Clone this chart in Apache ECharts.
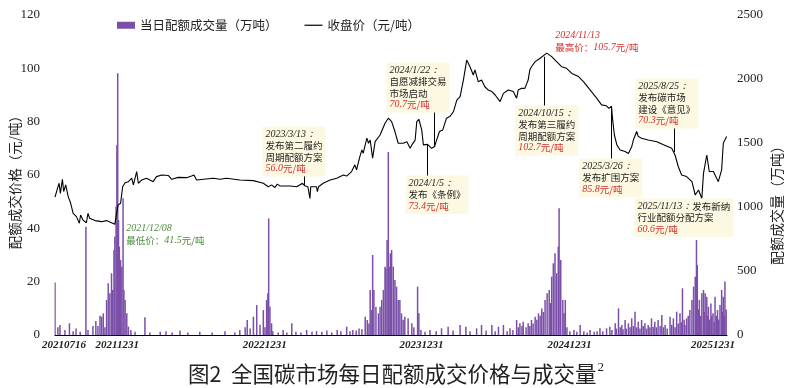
<!DOCTYPE html>
<html><head><meta charset="utf-8">
<script src="https://cdn.jsdelivr.net/npm/echarts@6/dist/echarts.min.js"></script>
<style>html,body{margin:0;padding:0;background:#fff}#c{width:792px;height:388px}</style>
</head><body><div id="c"></div>
<script>
// ---------- data ----------
const AXIS_START = '2021-07-16';
const AXIS_END = '2025-12-31';

// closing price, yuan/ton
const priceData = [
['2021-07-16',51.7],['2021-07-21',54.4],['2021-07-26',56.9],['2021-07-29',53.1],['2021-08-03',58.4],['2021-08-06',53.8],['2021-08-11',56.3],['2021-08-17',51.9],['2021-08-23',49.4],['2021-08-29',45.6],
['2021-09-06',44.4],['2021-09-13',41.9],['2021-09-16',45.0],['2021-09-22',43.1],['2021-09-30',42.1],['2021-10-04',45.6],['2021-10-08',43.8],['2021-10-21',42.9],['2021-11-06',42.5],['2021-11-18',42.9],
['2021-11-30',42.1],['2021-12-08',41.5],['2021-12-11',44.4],['2021-12-16',48.8],['2021-12-22',49.4],['2021-12-27',55.6],['2022-01-02',57.1],['2022-01-10',57.5],['2022-01-18',58.8],['2022-01-22',56.3],
['2022-01-30',61.3],['2022-02-03',56.9],['2022-02-11',58.1],['2022-02-23',58.8],['2022-03-11',57.5],['2022-03-19',59.4],['2022-04-01',60.0],['2022-04-17',59.8],['2022-04-25',58.4],['2022-05-11',59.1],
['2022-05-31',59.0],['2022-06-12',59.6],['2022-06-18',60.0],['2022-06-24',58.1],['2022-07-11',58.4],['2022-08-04',58.8],['2022-08-20',58.4],['2022-09-05',58.8],['2022-10-07',58.1],['2022-11-09',57.9],
['2022-12-03',56.9],['2022-12-15',55.6],['2022-12-23',56.3],['2022-12-31',55.3],['2023-01-06',56.6],['2023-01-12',55.9],['2023-02-06',55.9],['2023-02-22',55.6],['2023-03-08',56.9],['2023-03-13',56.0],
['2023-03-21',55.6],['2023-03-26',51.2],['2023-03-28',55.6],['2023-04-11',55.6],['2023-04-13',53.8],['2023-04-16',55.6],['2023-04-27',56.9],['2023-05-14',58.1],['2023-05-30',58.8],['2023-06-15',60.0],
['2023-06-23',59.6],['2023-07-05',61.3],['2023-07-13',63.8],['2023-07-17',61.9],['2023-07-25',66.9],['2023-07-30',69.4],['2023-08-02',68.1],['2023-08-11',73.8],['2023-08-15',71.9],['2023-08-19',73.1],
['2023-08-25',66.3],['2023-08-31',72.5],['2023-09-12',75.0],['2023-09-24',79.4],['2023-10-02',81.3],['2023-10-10',80.0],['2023-10-18',76.3],['2023-10-26',71.9],['2023-11-07',71.9],['2023-11-16',72.5],
['2023-11-24',70.0],['2023-11-28',71.3],['2023-12-06',73.1],['2023-12-10',80.0],['2023-12-15',80.9],['2023-12-22',76.9],['2023-12-26',71.3],['2024-01-05',71.5],['2024-01-15',70.0],['2024-01-22',70.7],
['2024-01-27',73.1],['2024-02-03',76.3],['2024-02-11',76.9],['2024-02-20',81.3],['2024-02-28',81.9],['2024-03-08',83.8],['2024-03-16',88.1],['2024-03-24',89.4],['2024-04-01',95.6],['2024-04-09',103.1],
['2024-04-17',100.6],['2024-04-25',97.5],['2024-04-29',99.4],['2024-05-07',95.0],['2024-05-15',95.6],['2024-05-23',93.1],['2024-05-31',91.9],['2024-06-09',91.3],['2024-06-17',90.0],['2024-06-29',87.5],
['2024-07-07',90.6],['2024-07-19',91.9],['2024-07-31',91.3],['2024-08-08',88.8],['2024-08-12',91.9],['2024-08-20',92.5],['2024-08-28',92.5],['2024-09-05',95.6],['2024-09-09',99.4],['2024-09-13',100.6],
['2024-09-22',102.5],['2024-10-04',103.8],['2024-10-20',105.7],['2024-11-01',104.4],['2024-11-13',102.5],['2024-11-25',100.6],['2024-12-07',100.0],['2024-12-20',98.1],['2025-01-05',96.9],['2025-01-17',95.0],
['2025-02-02',91.9],['2025-02-18',88.8],['2025-03-02',86.3],['2025-03-13',86.0],['2025-03-20',85.0],['2025-03-26',85.8],['2025-03-28',81.9],['2025-04-02',75.0],['2025-04-08',71.3],['2025-04-16',69.4],
['2025-04-28',68.8],['2025-05-06',68.1],['2025-05-14',70.6],['2025-05-18',73.1],['2025-05-26',76.3],['2025-05-30',74.4],['2025-06-07',73.8],['2025-06-23',73.1],['2025-07-14',72.5],['2025-07-30',71.3],
['2025-08-19',70.0],['2025-08-27',67.5],['2025-09-04',63.1],['2025-09-12',60.0],['2025-09-24',59.4],['2025-10-07',57.5],['2025-10-15',52.5],['2025-10-23',54.4],['2025-10-31',51.2],['2025-11-04',60.6],
['2025-11-12',67.5],['2025-11-18',61.3],['2025-11-28',61.3],['2025-12-10',57.5],['2025-12-18',61.9],['2025-12-22',71.9],['2025-12-30',74.4]
];

// daily traded volume, 10k tons
const volumeData = [
['2021-07-16',410],['2021-07-23',60],['2021-07-28',78],['2021-08-09',40],['2021-08-20',91],['2021-08-29',30],['2021-09-05',50],['2021-09-15',25],['2021-09-29',846],['2021-10-04',40],
['2021-10-16',70],['2021-10-23',110],['2021-10-28',70],['2021-11-02',150],['2021-11-06',143],['2021-11-10',169],['2021-11-14',60],['2021-11-18',273],['2021-11-22',404],['2021-11-26',326],
['2021-11-30',482],['2021-12-03',352],['2021-12-06',664],['2021-12-08',768],['2021-12-11',1003],['2021-12-13',1484],['2021-12-15',2044],['2021-12-17',898],['2021-12-19',690],['2021-12-22',586],
['2021-12-25',534],['2021-12-28',1068],['2021-12-30',352],['2022-01-02',273],['2022-01-06',169],['2022-01-10',65],['2022-01-16',40],['2022-01-26',25],['2022-02-19',138],['2022-03-03',20],
['2022-03-28',25],['2022-04-11',30],['2022-04-26',20],['2022-05-15',35],['2022-06-03',20],['2022-07-02',25],['2022-08-01',20],['2022-09-01',30],['2022-09-25',20],['2022-10-07',40],
['2022-10-20',60],['2022-10-25',117],['2022-11-01',50],['2022-11-09',143],['2022-11-17',234],['2022-11-25',80],['2022-12-03',195],['2022-12-07',60],['2022-12-11',273],['2022-12-14',326],
['2022-12-16',911],['2022-12-19',221],['2022-12-23',91],['2022-12-26',30],['2023-01-08',20],['2023-01-20',40],['2023-01-29',20],['2023-02-10',91],['2023-02-20',25],['2023-03-04',20],
['2023-03-18',39],['2023-03-31',25],['2023-04-11',30],['2023-04-24',25],['2023-05-06',35],['2023-05-18',20],['2023-05-31',40],['2023-06-09',30],['2023-06-23',65],['2023-07-01',30],
['2023-07-08',40],['2023-07-16',35],['2023-07-23',50],['2023-07-30',45],['2023-08-07',143],['2023-08-12',117],['2023-08-16',90],['2023-08-19',352],['2023-08-23',195],['2023-08-25',625],
['2023-08-28',352],['2023-09-02',221],['2023-09-08',169],['2023-09-12',221],['2023-09-16',273],['2023-09-20',352],['2023-09-24',534],['2023-09-26',521],['2023-09-29',742],['2023-10-02',1430],
['2023-10-04',534],['2023-10-07',638],['2023-10-10',664],['2023-10-14',534],['2023-10-18',430],['2023-10-22',378],['2023-10-26',273],['2023-10-30',273],['2023-11-03',169],['2023-11-07',120],
['2023-11-11',143],['2023-11-19',130],['2023-11-28',91],['2023-12-03',60],['2023-12-12',378],['2023-12-15',169],['2023-12-20',40],['2023-12-30',25],['2024-01-11',40],['2024-01-26',30],
['2024-02-08',52],['2024-02-24',65],['2024-03-07',35],['2024-03-24',78],['2024-04-07',65],['2024-04-17',30],['2024-05-03',52],['2024-05-15',78],['2024-05-26',35],['2024-06-09',78],
['2024-06-17',30],['2024-06-25',65],['2024-07-07',78],['2024-07-16',30],['2024-07-23',52],['2024-07-30',40],['2024-08-08',117],['2024-08-12',60],['2024-08-16',91],['2024-08-21',70],
['2024-08-24',104],['2024-08-31',60],['2024-09-05',91],['2024-09-09',70],['2024-09-13',117],['2024-09-17',90],['2024-09-22',143],['2024-09-26',120],['2024-09-30',169],['2024-10-04',150],
['2024-10-08',208],['2024-10-12',180],['2024-10-16',273],['2024-10-21',326],['2024-10-26',352],['2024-10-29',250],['2024-11-01',456],['2024-11-05',560],['2024-11-09',638],['2024-11-13',482],
['2024-11-17',690],['2024-11-19',990],['2024-11-23',586],['2024-11-28',273],['2024-12-01',169],['2024-12-04',273],['2024-12-08',60],['2024-12-15',30],['2024-12-25',40],['2025-01-01',25],
['2025-01-09',78],['2025-01-18',30],['2025-01-26',20],['2025-02-02',40],['2025-02-12',25],['2025-02-19',30],['2025-02-26',52],['2025-03-05',30],['2025-03-14',52],['2025-03-22',65],
['2025-03-27',40],['2025-04-04',91],['2025-04-07',50],['2025-04-12',208],['2025-04-16',60],['2025-04-20',78],['2025-04-23',45],['2025-04-28',117],['2025-05-01',50],['2025-05-06',91],
['2025-05-10',60],['2025-05-14',130],['2025-05-18',70],['2025-05-22',182],['2025-05-26',60],['2025-05-30',104],['2025-06-03',50],['2025-06-07',117],['2025-06-11',70],['2025-06-15',91],
['2025-06-19',50],['2025-06-23',78],['2025-06-27',60],['2025-07-01',130],['2025-07-05',65],['2025-07-09',104],['2025-07-13',60],['2025-07-17',117],['2025-07-22',70],['2025-07-26',156],
['2025-07-30',60],['2025-08-03',78],['2025-08-08',50],['2025-08-15',143],['2025-08-19',80],['2025-08-23',130],['2025-08-27',60],['2025-08-31',182],['2025-09-04',90],['2025-09-08',169],
['2025-09-11',100],['2025-09-14',365],['2025-09-18',120],['2025-09-20',78],['2025-09-24',130],['2025-09-28',150],['2025-10-02',195],['2025-10-07',273],['2025-10-11',378],['2025-10-15',456],
['2025-10-18',742],['2025-10-20',547],['2025-10-23',200],['2025-10-25',273],['2025-10-28',150],['2025-10-31',326],['2025-11-04',352],['2025-11-06',180],['2025-11-08',326],['2025-11-12',299],
['2025-11-14',150],['2025-11-16',221],['2025-11-19',120],['2025-11-22',247],['2025-11-24',150],['2025-11-27',169],['2025-11-30',100],['2025-12-02',299],['2025-12-05',150],['2025-12-08',195],
['2025-12-11',120],['2025-12-14',234],['2025-12-18',352],['2025-12-20',180],['2025-12-22',299],['2025-12-25',150],['2025-12-26',417],['2025-12-29',200]
];

const xTickDates  = ['2021-07-16','2021-12-31','2022-12-31','2023-12-31','2024-12-31','2025-12-31'];
const xTickLabels = ['20210716','20211231','20221231','20231231','20241231','20251231'];
const priceAxis  = { min: 0, max: 120,  interval: 20 };
const volumeAxis = { min: 0, max: 2500, interval: 500 };

// event notes: box anchor (top-left, in data units), texts, quoted price
const noteAnchors = [
  ['2022-12-02', 78],
  ['2023-09-29', 102],
  ['2023-11-14', 59.6],
  ['2024-08-06', 85.9],
  ['2025-01-08', 66],
  ['2025-05-24', 96],
  ['2025-05-22', 51]
];
const noteDates  = ['2023/3/13：','2024/1/22：','2024/1/5：','2024/10/15：','2025/3/26：','2025/8/25：','2025/11/13：'];
const noteHeads  = ['','','','','','','发布新纳'];
const noteLines  = [['发布第二履约','周期配额方案'],['自愿减排交易','市场启动'],['发布《条例》'],['发布第三履约','周期配额方案'],['发布扩围方案'],['发布碳市场','建设《意见》'],['行业配额分配方案']];
const notePrices = [56.0, 70.7, 73.4, 102.7, 85.8, 70.3, 60.6];

// leader lines: [date, from price, to price]
const leaders = [
  ['2023-03-13', 61.1, 56.3],
  ['2024-01-05', 71.3, 59.6],
  ['2024-01-22', 83.6, 71.0],
  ['2024-10-15', 104.3, 85.9],
  ['2025-03-26', 85.3, 66.0],
  ['2025-08-25', 78.7, 68.6]
];

// extreme price notes
const extremeNotes = [
  { anchor: ['2022-01-06', 42.3], date: '2021/12/08', label: '最低价：', value: 41.5, color: '#4d8a3f' },
  { anchor: ['2024-11-11', 114.6], date: '2024/11/13', label: '最高价：', value: 105.7, color: '#d2302c' }
];

// ---------- chart ----------
const ts = s => { const p = s.split('-').map(Number); return new Date(p[0], p[1] - 1, p[2]).getTime(); };
const SERIF = "'Liberation Serif', 'Times New Roman', serif";
const CJK = "'Noto Sans CJK SC', sans-serif";
const RED = '#d2302c';
const tickTs = xTickDates.map(ts);

const xShift = [9, -7, -10, -4, -7, -14];
const xRich = {};
xShift.forEach((s, i) => {
  xRich['s' + i] = {
    fontFamily: SERIF, fontStyle: 'italic', fontWeight: 'bold', fontSize: 11, color: '#222',
    padding: s > 0 ? [0, 0, 0, 2 * s] : [0, -2 * s, 0, 0]
  };
});

const noteRich = {
  d: { fontFamily: SERIF, fontStyle: 'italic', fontSize: 10, color: '#222', lineHeight: 11.5 },
  t: { fontFamily: CJK, fontSize: 9.5, color: '#222', lineHeight: 11.5 },
  p: { fontFamily: SERIF, fontStyle: 'italic', fontSize: 10, color: RED, lineHeight: 11.5 },
  pc: { fontFamily: CJK, fontSize: 9.5, color: RED, lineHeight: 11.5 }
};

const notePoints = noteAnchors.map((a, i) => {
  let s = '{d|' + noteDates[i] + '}' + (noteHeads[i] ? '{t|' + noteHeads[i] + '}' : '');
  noteLines[i].forEach(l => { s += '\n{t|' + l + '}'; });
  s += '\n{p|' + notePrices[i].toFixed(1) + '}{pc|元/吨}';
  return {
    coord: [ts(a[0]), a[1]],
    symbol: 'circle', symbolSize: 1, itemStyle: { color: 'rgba(0,0,0,0)' },
    label: {
      show: true, position: [0, 0], align: 'left', verticalAlign: 'top',
      backgroundColor: '#fcf8e2', padding: [2, 3, 2, 3],
      formatter: s, rich: noteRich
    }
  };
});
extremeNotes.forEach(n => {
  const c = n.color;
  notePoints.push({
    coord: [ts(n.anchor[0]), n.anchor[1]],
    symbol: 'circle', symbolSize: 1, itemStyle: { color: 'rgba(0,0,0,0)' },
    label: {
      show: true, position: [0, 0], align: 'left', verticalAlign: 'top',
      formatter: '{d|' + n.date + '}\n{t|' + n.label + '}{d|' + n.value.toFixed(1) + '}{t|元/吨}',
      rich: {
        d: { fontFamily: SERIF, fontStyle: 'italic', fontSize: 10, color: c, lineHeight: 12.5 },
        t: { fontFamily: CJK, fontSize: 9.5, color: c, lineHeight: 12.5 }
      }
    }
  });
});

const chart = echarts.init(document.getElementById('c'), null, { renderer: 'canvas' });
chart.setOption({
  animation: false,
  backgroundColor: '#fff',
  title: {
    text: '{a|图2  全国碳市场每日配额成交价格与成交量}{b|2}',
    left: 'center', top: 356,
    textStyle: {
      fontWeight: 'normal',
      rich: {
        a: { fontFamily: CJK, fontSize: 21.5, fontWeight: 'normal', color: '#222' },
        b: { fontFamily: SERIF, fontSize: 13, fontWeight: 'normal', color: '#222', padding: [0, 0, 12, 1] }
      }
    }
  },
  legend: {
    left: 112, top: 14, itemWidth: 18, itemHeight: 7, itemGap: 27,
    textStyle: { fontFamily: CJK, fontSize: 12.5, color: '#222' },
    data: [
      { name: '当日配额成交量（万吨）', icon: 'rect' },
      { name: '收盘价（元/吨）', icon: 'path://M0,0 L18,0 L18,1.2 L0,1.2 Z', itemStyle: { color: '#000' } }
    ]
  },
  grid: { left: 55, right: 65, top: 15, bottom: 53, containLabel: false, outerBoundsMode: 'none' },
  xAxis: {
    type: 'value', min: ts(AXIS_START), max: ts(AXIS_END), scale: true,
    axisLine: { show: true, onZero: false, lineStyle: { color: '#000', width: 1 } },
    axisTick: { show: false }, splitLine: { show: false },
    axisLabel: {
      customValues: tickTs, margin: 5, showMinLabel: true, showMaxLabel: true,
      formatter: v => {
        const i = tickTs.indexOf(v);
        return i < 0 ? '' : '{s' + i + '|' + xTickLabels[i] + '}';
      },
      rich: xRich
    }
  },
  yAxis: [
    {
      type: 'value', position: 'left', min: priceAxis.min, max: priceAxis.max, interval: priceAxis.interval,
      axisLine: { show: false }, axisTick: { show: false }, splitLine: { show: false },
      axisLabel: { margin: 15, fontFamily: SERIF, fontSize: 13, color: '#222', formatter: v => String(v) },
      name: '配额成交价格（元/吨）', nameLocation: 'middle', nameRotate: 90, nameGap: 33, nameMoveOverlap: false,
      nameTextStyle: { fontFamily: CJK, fontSize: 13.5, color: '#222', padding: [0, 8, 0, 0] }
    },
    {
      type: 'value', position: 'right', min: volumeAxis.min, max: volumeAxis.max, interval: volumeAxis.interval,
      axisLine: { show: false }, axisTick: { show: false }, splitLine: { show: false },
      axisLabel: { margin: 10, fontFamily: SERIF, fontSize: 13, color: '#222', formatter: v => String(v) },
      name: '配额成交量（万吨）', nameLocation: 'middle', nameRotate: 90, nameGap: 43, nameMoveOverlap: false,
      nameTextStyle: { fontFamily: CJK, fontSize: 14, color: '#222', padding: [0, 54, 0, 0] }
    }
  ],
  series: [
    {
      name: '当日配额成交量（万吨）', type: 'bar', yAxisIndex: 1, barWidth: 1.5, z: 1, silent: true,
      itemStyle: { color: '#7b4fa9' },
      data: volumeData.map(d => [ts(d[0]), d[1]])
    },
    {
      name: '收盘价（元/吨）', type: 'line', yAxisIndex: 0, symbol: 'none', z: 3, silent: true,
      lineStyle: { color: '#000', width: 1.1 }, itemStyle: { color: '#000' },
      data: priceData.map(d => [ts(d[0]), d[1]]),
      markLine: {
        silent: true, symbol: ['none', 'none'], label: { show: false },
        lineStyle: { color: '#000', width: 1, type: 'solid' },
        data: leaders.map(l => [{ coord: [ts(l[0]), l[1]] }, { coord: [ts(l[0]), l[2]] }])
      },
      markPoint: { silent: true, data: notePoints }
    }
  ]
});
</script></body></html>
